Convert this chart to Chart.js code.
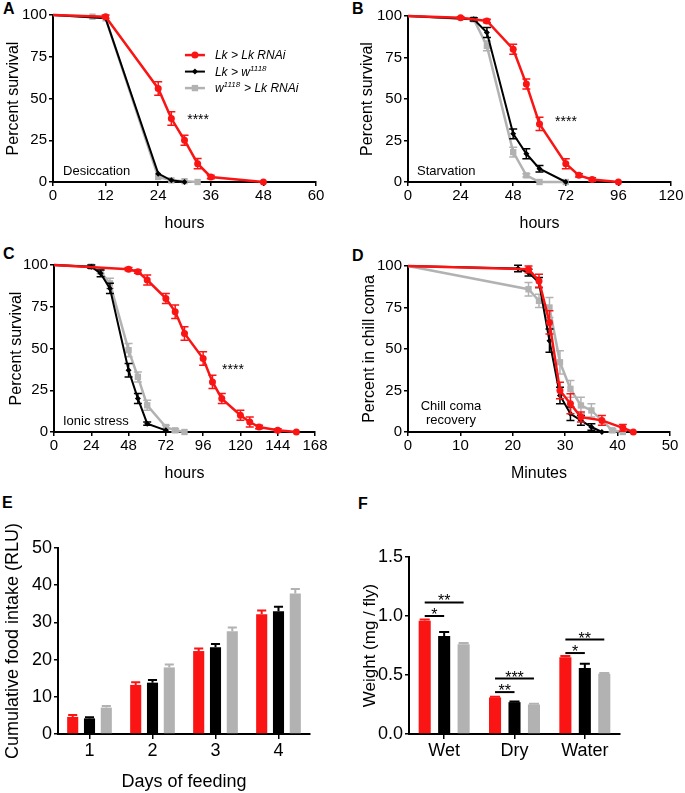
<!DOCTYPE html>
<html>
<head>
<meta charset="utf-8">
<script src="https://cdn.jsdelivr.net/npm/chart.js@4.4.1/dist/chart.umd.min.js"></script>
<style>
  body { margin: 0; background: #fff; width: 685px; height: 793px; position: relative; overflow: hidden;
         font-family: 'Liberation Sans', Arial, sans-serif; }
  canvas { position: absolute; }
  .lbl { position: absolute; font-weight: bold; font-size: 16px; line-height: 16px; }
</style>
</head>
<body>
<div class="lbl" style="left:3px;top:1px">A</div>
<div class="lbl" style="left:352px;top:1px">B</div>
<div class="lbl" style="left:3px;top:246px">C</div>
<div class="lbl" style="left:352px;top:248px">D</div>
<div class="lbl" style="left:2px;top:495px">E</div>
<div class="lbl" style="left:358px;top:496px">F</div>

<canvas id="chartA" width="340" height="240" style="left:0;top:0"></canvas>
<canvas id="chartB" width="345" height="240" style="left:340px;top:0"></canvas>
<canvas id="chartC" width="340" height="250" style="left:0;top:240px"></canvas>
<canvas id="chartD" width="345" height="250" style="left:340px;top:240px"></canvas>
<canvas id="chartE" width="340" height="296" style="left:0;top:497px"></canvas>
<canvas id="chartF" width="345" height="296" style="left:340px;top:497px"></canvas>

<script>
// Génotypes
const genotypes = ['Lk > Lk RNAi', 'Lk > w^1118', 'w^1118 > Lk RNAi'];

// A - dessiccation (heures / % survie / erreur)
const hoursA_red = [0, 12, 24, 27, 30, 33, 36, 48];
const survA_red = [100, 99, 56, 38, 25, 11, 3, 0];
const errA_red = [0, 1, 4, 4, 3, 3, 1, 0];
const hoursA_black = [0, 12, 24, 27, 30];
const survA_black = [100, 98, 5, 1, 0];
const errA_black = [0, 0, 0, 0, 0];
const hoursA_grey = [0, 9, 12, 24, 27, 30, 33];
const survA_grey = [100, 99, 98, 3, 1, 0.5, 0];
const errA_grey = [0, 0, 0, 0, 0, 0, 0];

// B - jeûne
const hoursB_red = [0, 24, 36, 48, 54, 60, 72, 78, 84, 96];
const survB_red = [100, 99, 97, 80, 59, 35, 11, 4, 1.5, 0];
const errB_red = [0, 0.5, 1, 3, 3, 4, 3, 1, 1, 0];
const hoursB_black = [0, 30, 36, 48, 54, 60, 72];
const survB_black = [100, 98, 90, 29, 17, 8, 0];
const errB_black = [0, 1, 3, 3, 3, 2, 0];
const hoursB_grey = [0, 30, 36, 48, 54, 60, 72];
const survB_grey = [100, 98, 82, 18, 4, 0, 0];
const errB_grey = [0, 1, 3, 3, 1, 0, 0];

// C - stress ionique
const hoursC_red = [0, 48, 54, 60, 72, 78, 84, 96, 102, 108, 120, 126, 132, 144, 156];
const survC_red = [100, 97.5, 96, 91, 80, 72, 59, 44, 30, 20, 10, 6, 3, 1, 0];
const errC_red = [0, 1, 1, 3, 3, 4, 4, 4, 4, 3, 3, 3, 1, 1, 0];
const hoursC_black = [0, 24, 30, 36, 48, 54, 60, 72];
const survC_black = [100, 99, 95, 86, 37, 20, 5, 1];
const errC_black = [0, 1, 2, 3, 4, 3, 1, 0];
const hoursC_grey = [0, 24, 30, 36, 48, 54, 60, 72, 78, 84];
const survC_grey = [100, 99, 96, 89, 49, 33, 16, 3, 1, 0];
const errC_grey = [0, 1, 1, 3, 4, 3, 3, 1, 1, 0];

// D - récupération après coma froid (minutes / %)
const minD_red = [0, 23, 25, 27, 29, 31, 33, 37, 41, 43];
const pctD_red = [100, 98, 91, 66, 25, 17, 9, 7, 2.5, 0];
const errD_red = [0, 2, 4, 7, 5, 6, 3, 3, 2, 0];
const minD_black = [0, 21, 23, 25, 27, 29, 31, 33, 35, 37];
const pctD_black = [100, 98.5, 96, 90, 55, 22, 11, 7, 3, 0];
const errD_black = [0, 2, 2, 3, 7, 5, 4, 3, 2, 0];
const minD_grey = [0, 23, 25, 27, 29, 31, 33, 35, 39, 41];
const pctD_grey = [100, 86, 79, 75, 42, 26, 16, 13, 1, 0];
const errD_grey = [0, 4, 4, 6, 7, 5, 5, 4, 1, 0];

// E - prise alimentaire cumulée
const days = ['1', '2', '3', '4'];
const foodE_red = [4.6, 13.2, 22.3, 32.2];
const foodE_black = [4.2, 13.8, 23.3, 33.0];
const foodE_grey = [7.1, 17.9, 27.6, 37.8];
const errE_red = [0.5, 0.7, 0.7, 1.0];
const errE_black = [0.3, 0.7, 0.9, 1.2];
const errE_grey = [0.4, 0.8, 1.0, 1.2];

// F - poids
const weightCats = ['Wet', 'Dry', 'Water'];
const weightF_red = [0.96, 0.31, 0.65];
const weightF_black = [0.83, 0.27, 0.56];
const weightF_grey = [0.76, 0.25, 0.51];
const errF_red = [0.01, 0.005, 0.01];
const errF_black = [0.035, 0.006, 0.035];
const errF_grey = [0.012, 0.006, 0.008];
// comparaisons : catégorie, série de départ, série d'arrivée, hauteur, étoiles
const sigCats = [0, 0, 1, 1, 2, 2];
const sigFrom = [0, 0, 0, 0, 0, 0];
const sigTo = [1, 2, 1, 2, 1, 2];
const sigLevels = [1.0, 1.115, 0.355, 0.47, 0.686, 0.80];
const sigStars = ['*', '**', '**', '***', '*', '**'];

const RED = 'rgb(250,20,20)';
const BLACK = '#000';
const GREY = 'rgb(178,178,178)';
const FONT = "'Liberation Sans', Arial, sans-serif";

Chart.defaults.font.family = FONT;
Chart.defaults.color = '#000';

// Barres d'erreur dessinées après chaque série
const errorBars = {
    id: 'errorBars',
    afterDatasetDraw(chart, args, opts) {
        const ds = chart.data.datasets[args.index];
        if (!ds.errors) return;
        const meta = args.meta;
        const yScale = chart.scales[meta.yAxisID];
        const ctx = chart.ctx;
        ctx.save();
        ctx.strokeStyle = ds.borderColor || ds.backgroundColor;
        ctx.lineWidth = opts.lineWidth || 1.5;
        meta.data.forEach((el, i) => {
            const err = ds.errors[i];
            if (!err) return;
            const v = meta.controller.getParsed(i).y;
            const top = yScale.getPixelForValue(v + err);
            const bottom = opts.upOnly ? el.y : yScale.getPixelForValue(v - err);
            const half = opts.upOnly ? el.width / 2 - 1 : opts.cap;
            ctx.beginPath();
            ctx.moveTo(el.x, top);
            ctx.lineTo(el.x, bottom);
            ctx.moveTo(el.x - half, top);
            ctx.lineTo(el.x + half, top);
            if (!opts.upOnly) {
                ctx.moveTo(el.x - half, bottom);
                ctx.lineTo(el.x + half, bottom);
            }
            ctx.stroke();
        });
        ctx.restore();
    }
};

// Textes placés en coordonnées de données
const notes = {
    id: 'notes',
    afterDraw(chart, args, opts) {
        if (!opts.items) return;
        const ctx = chart.ctx;
        ctx.save();
        ctx.fillStyle = '#000';
        ctx.textBaseline = 'alphabetic';
        opts.items.forEach(n => {
            ctx.font = (n.size || 13) + 'px ' + FONT;
            ctx.textAlign = n.align || 'left';
            ctx.fillText(n.text, chart.scales.x.getPixelForValue(n.x), chart.scales.y.getPixelForValue(n.y));
        });
        ctx.restore();
    }
};

// Légende façon GraphPad : trait + symbole, exposants gérés avec ^
const lineLegend = {
    id: 'lineLegend',
    afterDraw(chart, args, opts) {
        if (!opts.display) return;
        const ctx = chart.ctx;
        const x0 = chart.scales.x.getPixelForValue(opts.x);
        const y0 = chart.scales.y.getPixelForValue(opts.y);
        chart.data.datasets.forEach((ds, i) => {
            const y = y0 + i * opts.rowGap;
            ctx.save();
            ctx.strokeStyle = ds.borderColor;
            ctx.fillStyle = ds.borderColor;
            ctx.lineWidth = ds.borderWidth;
            ctx.beginPath();
            ctx.moveTo(x0, y);
            ctx.lineTo(x0 + opts.lineLength, y);
            ctx.stroke();
            Chart.helpers.drawPoint(ctx, { pointStyle: ds.pointStyle, radius: ds.markerSize, rotation: 0, borderWidth: 0 },
                x0 + opts.lineLength / 2, y);
            ctx.fillStyle = '#000';
            ctx.textAlign = 'left';
            ctx.textBaseline = 'alphabetic';
            let tx = x0 + opts.lineLength + opts.gap;
            ds.label.split(/(\^\d+)/).forEach(part => {
                if (!part) return;
                if (part[0] === '^') {
                    ctx.font = 'italic 8px ' + FONT;
                    ctx.fillText(part.slice(1), tx, y - 1);
                    tx += ctx.measureText(part.slice(1)).width + 0.5;
                } else {
                    ctx.font = 'italic 12px ' + FONT;
                    ctx.fillText(part, tx, y + 4);
                    tx += ctx.measureText(part).width;
                }
            });
            ctx.restore();
        });
    }
};

// Traits de significativité (panneau F)
const brackets = {
    id: 'brackets',
    afterDraw(chart, args, opts) {
        if (!opts.cats) return;
        const ctx = chart.ctx;
        const yScale = chart.scales.y;
        ctx.save();
        ctx.strokeStyle = '#000';
        ctx.fillStyle = '#000';
        ctx.lineWidth = 2;
        ctx.font = '16px ' + FONT;
        ctx.textAlign = 'center';
        ctx.textBaseline = 'alphabetic';
        opts.cats.forEach((c, i) => {
            const x1 = chart.getDatasetMeta(opts.from[i]).data[c].x;
            const x2 = chart.getDatasetMeta(opts.to[i]).data[c].x;
            const y = yScale.getPixelForValue(opts.levels[i]);
            ctx.beginPath();
            ctx.moveTo(x1, y);
            ctx.lineTo(x2, y);
            ctx.stroke();
            ctx.fillText(opts.stars[i], (x1 + x2) / 2, y + 4);
        });
        ctx.restore();
    }
};

function points(xs, ys) {
    return xs.map((x, i) => ({ x: x, y: ys[i] }));
}

function lineSet(label, xs, ys, errs, color, style, size, width) {
    return {
        label: label,
        data: points(xs, ys),
        errors: errs,
        borderColor: color,
        backgroundColor: color,
        borderWidth: width,
        pointStyle: style,
        markerSize: size,
        pointRadius: ctx => (ctx.dataIndex === 0 ? 0 : size),
        pointBorderWidth: 0,
        tension: 0,
        fill: false,
        clip: false
    };
}

function axisBase(fontSize) {
    return {
        ticks: { color: '#000', font: { size: fontSize } },
        grid: { drawOnChartArea: false, drawTicks: true, tickLength: 4, color: '#000', lineWidth: 1.5 },
        border: { color: '#000', width: 2 }
    };
}

// Courbe de survie
function drawSurvival(canvasId, sets, p) {
    const x = axisBase(15);
    x.type = 'linear';
    x.min = 0;
    x.max = p.xMax;
    x.ticks.stepSize = p.xStep;
    x.ticks.padding = 1;
    x.title = { display: true, text: p.xTitle, font: { size: 16 }, color: '#000', padding: { top: 0, bottom: p.xTitlePad } };
    x.afterFit = s => { s.height = p.xHeight; };

    const y = axisBase(15);
    y.min = 0;
    y.max = 100;
    y.ticks.stepSize = 25;
    y.ticks.padding = 2;
    y.title = { display: true, text: p.yTitle, font: { size: 16 }, color: '#000', padding: { top: p.yTitlePad, bottom: 0 } };
    y.afterFit = s => { s.width = p.yWidth; };

    return new Chart(document.getElementById(canvasId), {
        type: 'line',
        data: { datasets: sets },
        options: {
            responsive: false,
            animation: false,
            devicePixelRatio: 1,
            layout: { padding: { left: 0, right: p.padRight, top: p.padTop, bottom: 0 } },
            scales: { x: x, y: y },
            plugins: {
                legend: { display: false },
                tooltip: { enabled: false },
                errorBars: { lineWidth: 1.5, cap: 4 },
                notes: { items: p.notes },
                lineLegend: p.legend || { display: false }
            }
        },
        plugins: [errorBars, notes, lineLegend]
    });
}

function survivalSets(xr, yr, er, xb, yb, eb, xg, yg, eg) {
    return [
        lineSet(genotypes[0], xr, yr, er, RED, 'circle', 3.5, 2.5),
        lineSet(genotypes[1], xb, yb, eb, BLACK, 'rectRot', 3, 2),
        lineSet(genotypes[2], xg, yg, eg, GREY, 'rect', 4.5, 2.5)
    ];
}

drawSurvival('chartA',
    survivalSets(hoursA_red, survA_red, errA_red, hoursA_black, survA_black, errA_black, hoursA_grey, survA_grey, errA_grey),
    {
        xMax: 60, xStep: 12, xTitle: 'hours', yTitle: 'Percent survival',
        yWidth: 53, xHeight: 58, padTop: 15, padRight: 24, yTitlePad: 4, xTitlePad: 7,
        notes: [
            { text: 'Desiccation', x: 2.3, y: 4.2 },
            { text: '****', x: 33.1, y: 34.5, align: 'center', size: 14 }
        ],
        legend: { display: true, x: 30.1, y: 76, rowGap: 16.5, lineLength: 20, gap: 10 }
    });

drawSurvival('chartB',
    survivalSets(hoursB_red, survB_red, errB_red, hoursB_black, survB_black, errB_black, hoursB_grey, survB_grey, errB_grey),
    {
        xMax: 120, xStep: 24, xTitle: 'hours', yTitle: 'Percent survival',
        yWidth: 68, xHeight: 58, padTop: 16, padRight: 14, yTitlePad: 18, xTitlePad: 7,
        notes: [
            { text: 'Starvation', x: 4.1, y: 4.2 },
            { text: '****', x: 72.1, y: 34, align: 'center', size: 14 }
        ]
    });

drawSurvival('chartC',
    survivalSets(hoursC_red, survC_red, errC_red, hoursC_black, survC_black, errC_black, hoursC_grey, survC_grey, errC_grey),
    {
        xMax: 168, xStep: 24, xTitle: 'hours', yTitle: 'Percent survival',
        yWidth: 54, xHeight: 58, padTop: 25, padRight: 25, yTitlePad: 7, xTitlePad: 7,
        notes: [
            { text: 'Ionic stress', x: 5.8, y: 4.2 },
            { text: '****', x: 115.2, y: 34.5, align: 'center', size: 14 }
        ]
    });

drawSurvival('chartD',
    survivalSets(minD_red, pctD_red, errD_red, minD_black, pctD_black, errD_black, minD_grey, pctD_grey, errD_grey),
    {
        xMax: 50, xStep: 10, xTitle: 'Minutes', yTitle: 'Percent in chill coma',
        yWidth: 68, xHeight: 58, padTop: 26, padRight: 15, yTitlePad: 20, xTitlePad: 7,
        notes: [
            { text: 'Chill coma', x: 8.2, y: 13, align: 'center' },
            { text: 'recovery', x: 8.2, y: 5, align: 'center' }
        ]
    });

// Histogrammes
function drawBars(canvasId, labels, values, errs, p) {
    const colors = [RED, BLACK, GREY];
    const sets = values.map((v, i) => ({
        label: genotypes[i],
        data: v,
        errors: errs[i],
        backgroundColor: colors[i],
        borderWidth: 0,
        categoryPercentage: p.catPct,
        barPercentage: p.barPct
    }));

    const x = axisBase(18);
    x.grid.offset = false;
    x.grid.tickLength = 5;
    x.ticks.padding = 1;
    x.title = p.xTitle ? { display: true, text: p.xTitle, font: { size: 18 }, color: '#000', padding: { top: 0, bottom: 0 } } : { display: false };
    x.afterFit = s => { s.height = p.xHeight; };

    const y = axisBase(18);
    y.min = 0;
    y.max = p.yMax;
    y.ticks.stepSize = p.yStep;
    y.ticks.padding = 2;
    if (p.yFormat) y.ticks.callback = p.yFormat;
    y.title = { display: true, text: p.yTitle, font: { size: p.yTitleSize }, color: '#000', padding: { top: p.yTitlePad, bottom: 0 } };
    y.afterFit = s => { s.width = p.yWidth; };

    return new Chart(document.getElementById(canvasId), {
        type: 'bar',
        data: { labels: labels, datasets: sets },
        options: {
            responsive: false,
            animation: false,
            devicePixelRatio: 1,
            layout: { padding: { left: 0, right: p.padRight, top: p.padTop, bottom: 0 } },
            scales: { x: x, y: y },
            plugins: {
                legend: { display: false },
                tooltip: { enabled: false },
                errorBars: { lineWidth: 2, upOnly: true },
                brackets: p.brackets || {}
            }
        },
        plugins: [errorBars, brackets]
    });
}

drawBars('chartE', days, [foodE_red, foodE_black, foodE_grey], [errE_red, errE_black, errE_grey], {
    yMax: 50, yStep: 10, yTitle: 'Cumulative food intake (RLU)', yTitleSize: 18, xTitle: 'Days of feeding',
    yWidth: 58, xHeight: 59, padTop: 51, padRight: 30, yTitlePad: 2,
    catPct: 0.8, barPct: 0.66
});

drawBars('chartF', weightCats, [weightF_red, weightF_black, weightF_grey], [errF_red, errF_black, errF_grey], {
    yMax: 1.5, yStep: 0.5, yTitle: 'Weight (mg / fly)', yTitleSize: 17,
    yFormat: v => v.toFixed(1),
    yWidth: 69, xHeight: 59, padTop: 60, padRight: 65, yTitlePad: 20,
    catPct: 0.83, barPct: 0.62,
    brackets: { cats: sigCats, from: sigFrom, to: sigTo, levels: sigLevels, stars: sigStars }
});
</script>
</body>
</html>
